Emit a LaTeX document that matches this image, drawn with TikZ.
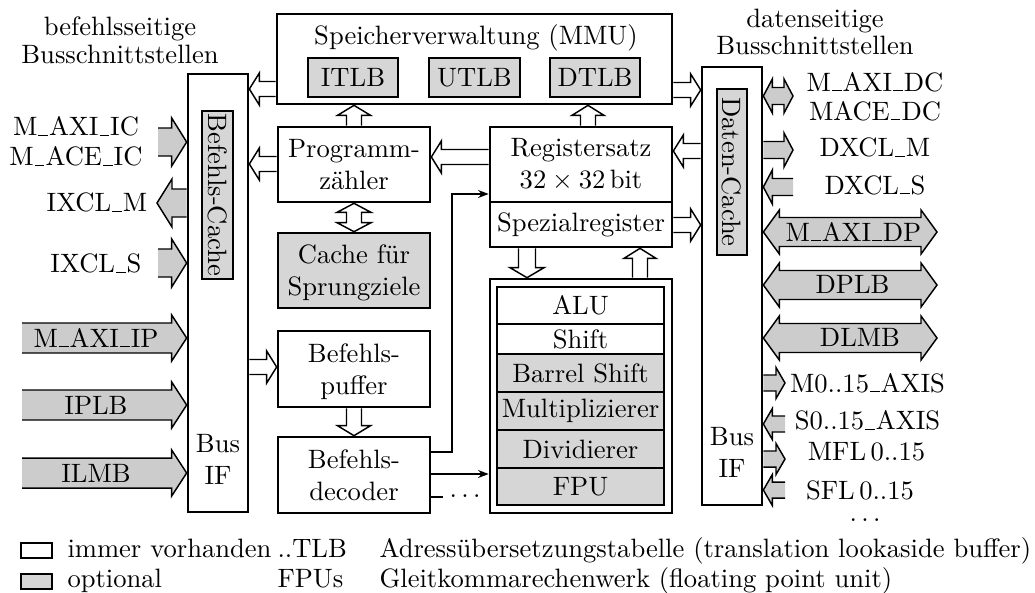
\documentclass[tikz,border=0pt]{standalone}
\usetikzlibrary{arrows.meta,fit,calc}
\definecolor{boxgray}{gray}{0.84}
\definecolor{arrgray}{gray}{0.80}
\def\pxu{0.3763}
\newcommand\us{\leavevmode\kern.04em\vbox{\hrule width.36em height .4pt}\kern.04em}
% horizontal block arrow: #1 start, #2 tip (x only), #3 shaft half, #4 head half, #5 head length, #6 fill
\newcommand\harrow[6]{%
 \fill[fill=#6] let \p1=(#1), \p2=(#2), \n1={((\x2>\x1)*2-1)*#5*\pxu}, \n2={#3*\pxu}, \n3={#4*\pxu} in
  (\x1,{\y1+\n2}) -- ({\x2-(\n1)},{\y1+\n2}) -- ({\x2-(\n1)},{\y1+\n3}) -- (\x2,\y1) -- ({\x2-(\n1)},{\y1-\n3}) -- ({\x2-(\n1)},{\y1-\n2}) -- (\x1,{\y1-\n2}) -- cycle;
 \draw[aline] let \p1=(#1), \p2=(#2), \n1={((\x2>\x1)*2-1)*#5*\pxu}, \n2={#3*\pxu}, \n3={#4*\pxu} in
  (\x1,{\y1+\n2}) -- ({\x2-(\n1)},{\y1+\n2}) -- ({\x2-(\n1)},{\y1+\n3}) -- (\x2,\y1) -- ({\x2-(\n1)},{\y1-\n3}) -- ({\x2-(\n1)},{\y1-\n2}) -- (\x1,{\y1-\n2});}
% vertical block arrow: #1 start, #2 tip (y only)
\newcommand\varrow[6]{%
 \fill[fill=#6] let \p1=(#1), \p2=(#2), \n1={((\y2>\y1)*2-1)*#5*\pxu}, \n2={#3*\pxu}, \n3={#4*\pxu} in
  ({\x1+\n2},\y1) -- ({\x1+\n2},{\y2-(\n1)}) -- ({\x1+\n3},{\y2-(\n1)}) -- (\x1,\y2) -- ({\x1-\n3},{\y2-(\n1)}) -- ({\x1-\n2},{\y2-(\n1)}) -- ({\x1-\n2},\y1) -- cycle;
 \draw[aline] let \p1=(#1), \p2=(#2), \n1={((\y2>\y1)*2-1)*#5*\pxu}, \n2={#3*\pxu}, \n3={#4*\pxu} in
  ({\x1+\n2},\y1) -- ({\x1+\n2},{\y2-(\n1)}) -- ({\x1+\n3},{\y2-(\n1)}) -- (\x1,\y2) -- ({\x1-\n3},{\y2-(\n1)}) -- ({\x1-\n2},{\y2-(\n1)}) -- ({\x1-\n2},\y1);}
% horizontal double block arrow
\newcommand\hdarrow[6]{%
 \filldraw[fill=#6, draw=black, aline] let \p1=(#1), \p2=(#2), \n1={((\x2>\x1)*2-1)*#5*\pxu}, \n2={#3*\pxu}, \n3={#4*\pxu} in
  (\x1,\y1) -- ({\x1+\n1},{\y1+\n3}) -- ({\x1+\n1},{\y1+\n2}) -- ({\x2-(\n1)},{\y1+\n2}) -- ({\x2-(\n1)},{\y1+\n3}) -- (\x2,\y1) -- ({\x2-(\n1)},{\y1-\n3}) -- ({\x2-(\n1)},{\y1-\n2}) -- ({\x1+\n1},{\y1-\n2}) -- ({\x1+\n1},{\y1-\n3}) -- cycle;}
% vertical double block arrow
\newcommand\vdarrow[6]{%
 \filldraw[fill=#6, draw=black, aline] let \p1=(#1), \p2=(#2), \n1={((\y2>\y1)*2-1)*#5*\pxu}, \n2={#3*\pxu}, \n3={#4*\pxu} in
  (\x1,\y1) -- ({\x1+\n3},{\y1+\n1}) -- ({\x1+\n2},{\y1+\n1}) -- ({\x1+\n2},{\y2-(\n1)}) -- ({\x1+\n3},{\y2-(\n1)}) -- (\x1,\y2) -- ({\x1-\n3},{\y2-(\n1)}) -- ({\x1-\n2},{\y2-(\n1)}) -- ({\x1-\n2},{\y1+\n1}) -- ({\x1-\n3},{\y1+\n1}) -- cycle;}
\begin{document}
\begin{tikzpicture}[x=0.3763pt, y=-0.3763pt,
  box/.style={draw, line width=1pt, fill=white, inner sep=0pt},
  gbox/.style={box, fill=boxgray},
  lbl/.style={inner sep=0pt, align=center},
  aline/.style={draw=black, line width=0.55pt, line join=miter},
  conn/.style={line width=0.55pt, -{Stealth[length=4pt,width=3pt]}},
  thinl/.style={line width=0.55pt}]
\useasboundingbox (0,0) rectangle (1035,592);
% bus interface boxes
\node[box, fit={(188,74) (248,512)}] (lb) {};
\node[gbox, fit={(202,111) (233,279)}] (lbc) {};
\node[lbl, rotate=-90] (lbct) at (lbc.center) {Befehls-Cache};
\node[lbl] (lbif) at (218,459) {Bus\\IF};
\node[box, fit={(702,67) (762,505)}] (rb) {};
\node[gbox, fit={(717,89) (747,255)}] (rbc) {};
\node[lbl, rotate=-90] (rbct) at (rbc.center) {Daten-Cache};
\node[lbl] (rbif) at (732,452) {Bus\\IF};
% MMU
\node[box, fit={(277,14) (672,104)}] (mmu) {};
\node[lbl] (mmut) at (476,37.5) {Speicherverwaltung (MMU)};
\node[gbox, fit={(308,58) (398,97)}] (itlb) {};
\node[gbox, fit={(429,58) (520,97)}] (utlb) {};
\node[gbox, fit={(550,58) (640,97)}] (dtlb) {};
\node[lbl] (itlbt) at (itlb.center) {ITLB};
\node[lbl] (utlbt) at (utlb.center) {UTLB};
\node[lbl] (dtlbt) at (dtlb.center) {DTLB};
% middle column
\node[box, fit={(278,127) (430,202)}] (pc) {};
\node[gbox, fit={(278,233) (430,308)}] (cache) {};
\node[box, fit={(278,331) (430,407)}] (buf) {};
\node[box, fit={(278,437) (430,513)}] (dec) {};
\node[lbl] (pct) at (pc.center) {Programm-\\zähler};
\node[lbl] (cachet) at ([yshift=-1pt]cache.center) {Cache für\\Sprungziele};
\node[lbl] (buft) at ([yshift=-1pt]buf.center) {Befehls-\\puffer};
\node[lbl] (dect) at (dec.center) {Befehls-\\decoder};
% register / execution
\node[box, fit={(490,127) (672,202)}] (reg) {};
\node[box, fit={(490,202) (672,247)}] (spez) {};
\node[lbl] (regt) at (reg.center) {Registersatz\\$32\times32$\,bit};
\node[lbl] (spezt) at (spez.center) {Spezialregister};
\node[box, fit={(490,279) (672,513)}] (alu) {};
\node[box, fit={(497,287) (664,324)}] (r1) {};
\node[box, fit={(497,324) (664,354)}] (r2) {};
\node[gbox, fit={(497,354) (664,392)}] (r3) {};
\node[gbox, fit={(497,392) (664,430)}] (r4) {};
\node[gbox, fit={(497,430) (664,468)}] (r5) {};
\node[gbox, fit={(497,468) (664,505)}] (r6) {};
\node[lbl] (r1t) at (r1.center) {ALU};
\node[lbl] (r2t) at (r2.center) {Shift};
\node[lbl] (r3t) at (r3.center) {Barrel Shift};
\node[lbl] (r4t) at (r4.center) {Multiplizierer};
\node[lbl] (r5t) at (r5.center) {Dividierer};
\node[lbl] (r6t) at (r6.center) {FPU};
% headings
\node[lbl] (hl) at (120,40) {befehlsseitige\\[-1.5pt]Busschnittstellen};
\node[lbl] (hr) at (815,32) {datenseitige\\[-1.8pt]Busschnittstellen};
% left external arrows
\coordinate (iA) at (158,142);
\coordinate (iB) at (157,203);
\coordinate (iC) at (158,263);
\coordinate (iD) at (22,338);
\coordinate (iE) at (22,405);
\coordinate (iF) at (22,473);
\harrow{iA}{lb.west}{14}{24}{15}{arrgray}
\harrow{lb.west |- iB}{iB}{14}{24}{15}{arrgray}
\harrow{iC}{lb.west}{14}{24}{15}{arrgray}
\harrow{iD}{lb.west}{15}{23}{15}{arrgray}
\harrow{iE}{lb.west}{15}{23}{15}{arrgray}
\harrow{iF}{lb.west}{15}{23}{15}{arrgray}
\node[lbl] (tA) at (76,141.5) {M\us AXI\us IC\\[-0.7pt]M\us ACE\us IC};
\node[lbl] (tB) at (97,202.5) {IXCL\us M};
\node[lbl] (tC) at (96,263.5) {IXCL\us S};
\node[lbl] (tD) at (96,337.5) {M\us AXI\us IP};
\node[lbl] (tE) at (96,405.5) {IPLB};
\node[lbl] (tF) at (96,473.5) {ILMB};
% right external arrows
\coordinate (dA) at (793,96);
\coordinate (dB) at (793,150);
\coordinate (dC) at (793,187);
\coordinate (dD) at (937,232);
\coordinate (dE) at (937,285);
\coordinate (dF) at (937,338);
\coordinate (dG) at (785,383);
\coordinate (dH) at (785,424);
\coordinate (dI) at (785,459);
\coordinate (dJ) at (785,490);
\hdarrow{rb.east |- dA}{dA}{8.5}{17}{9}{arrgray}
\harrow{rb.east |- dB}{dB}{8.5}{17}{9}{arrgray}
\harrow{dC}{rb.east}{8.5}{17}{9}{arrgray}
\hdarrow{rb.east |- dD}{dD}{14.5}{22}{16}{arrgray}
\hdarrow{rb.east |- dE}{dE}{14.5}{22}{16}{arrgray}
\hdarrow{rb.east |- dF}{dF}{14.5}{22}{16}{arrgray}
\harrow{rb.east |- dG}{dG}{8}{15.5}{9}{arrgray}
\harrow{dH}{rb.east}{8}{15.5}{9}{arrgray}
\harrow{rb.east |- dI}{dI}{8}{15.5}{9}{arrgray}
\harrow{dJ}{rb.east}{8}{15.5}{9}{arrgray}
\node[lbl] (uA) at (875,96.5) {M\us AXI\us DC\\[-1.1pt]MACE\us DC};
\node[lbl] (uB) at (875,147.5) {DXCL\us M};
\node[lbl] (uC) at (875,185) {DXCL\us S};
\node[lbl] (uD) at (853.5,231.5) {M\us AXI\us DP};
\node[lbl] (uE) at (852.5,284) {DPLB};
\node[lbl] (uF) at (860,337.5) {DLMB};
\node[lbl] (uG) at (867.5,383) {M0..15\us AXIS};
\node[lbl] (uH) at (867.5,420.5) {S0..15\us AXIS};
\node[lbl] (uI) at (866.5,452) {MFL\,0..15};
\node[lbl] (uJ) at (860,490) {SFL\,0..15};
\node[lbl, anchor=base] (uK) at (865,521) {.\,.\,.};
% internal hollow arrows
\harrow{mmu.west |- 0,89}{lb.east}{7.5}{16}{10}{white}
\harrow{pc.west |- 0,164}{lb.east}{7.5}{16}{10}{white}
\harrow{lb.east |- 0,367}{buf.west}{7.5}{16}{10}{white}
\harrow{reg.west |- 0,157}{pc.east}{7.5}{16}{10}{white}
\harrow{rb.west |- 0,151}{reg.east}{7.5}{16}{10}{white}
\harrow{mmu.east |- 0,90}{rb.west}{7.5}{16}{10}{white}
\harrow{spez.east |- 0,225}{rb.west}{7.5}{16}{10}{white}
\varrow{pc.north}{mmu.south}{7.5}{16.5}{10}{white}
\varrow{reg.north -| 588,0}{mmu.south}{7.5}{16}{10}{white}
\varrow{buf.south}{dec.north}{7.5}{16.5}{10}{white}
\varrow{spez.south -| 527,0}{alu.north}{8.5}{17}{10}{white}
\varrow{alu.north -| 640,0}{spez.south}{7.5}{16}{10}{white}
\vdarrow{pc.south}{cache.north}{7.5}{17}{9}{white}
% thin connectors from decoder
\draw[conn] (dec.east |- 0,452) -| (452,194) -- (reg.west |- 0,194);
\draw[conn] (dec.east |- 0,474) -- (alu.west |- 0,474);
\draw[thinl] (dec.east |- 0,497) -- (443,497);
\node[lbl, anchor=base west] (ddots) at (449,497.5) {.\,.\,.};
% legend
\node[box, fit={(21,543) (52,558)}] (lg1) {};
\node[gbox, fit={(21,574) (52,589)}] (lg2) {};
\node[lbl, anchor=base west] (lt1) at (67,557) {immer vorhanden};
\node[lbl, anchor=base west] (lt2) at (67,587) {optional};
\node[lbl, anchor=base west] (lt3) at (277,557) {..TLB};
\node[lbl, anchor=base west] (lt4) at (277,587) {FPUs};
\node[lbl, anchor=base west] (lt5) at (379,557) {Adressübersetzungstabelle (translation lookaside buffer)};
\node[lbl, anchor=base west] (lt6) at (379,587) {Gleitkommarechenwerk (floating point unit)};
\end{tikzpicture}
\end{document}
